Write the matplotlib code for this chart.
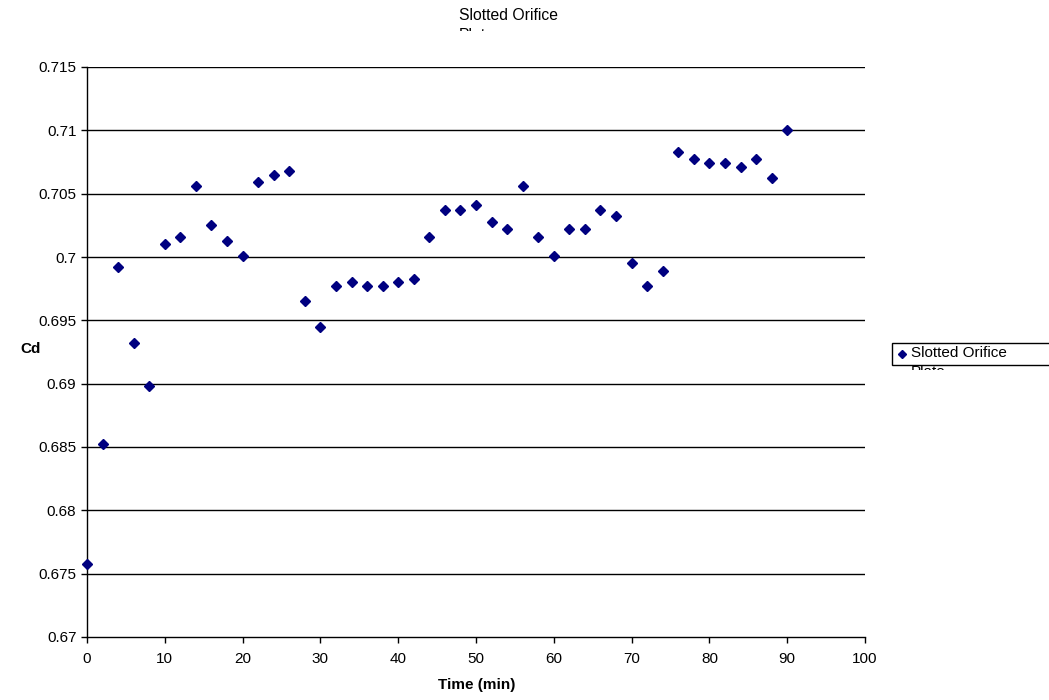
import matplotlib
matplotlib.use("Agg")
import matplotlib.pyplot as plt
from matplotlib.patches import Rectangle
from matplotlib.lines import Line2D
from matplotlib.ticker import FuncFormatter

plt.rcParams['font.family'] = ['Liberation Sans', 'DejaVu Sans']

# Discharge coefficient of the slotted orifice plate over time
time_min = [0, 2, 4, 6, 8, 10, 12, 14, 16, 18, 20, 22, 24, 26, 28, 30,
            32, 34, 36, 38, 40, 42, 44, 46, 48, 50, 52, 54, 56, 58, 60,
            62, 64, 66, 68, 70, 72, 74, 76, 78, 80, 82, 84, 86, 88, 90]
cd = [0.6758, 0.6852, 0.6992, 0.6932, 0.6898, 0.7010, 0.7016, 0.7056,
      0.7025, 0.7013, 0.7001, 0.7059, 0.7065, 0.7068, 0.6965, 0.6945,
      0.6977, 0.6980, 0.6977, 0.6977, 0.6980, 0.6983, 0.7016, 0.7037,
      0.7037, 0.7041, 0.7028, 0.7022, 0.7056, 0.7016, 0.7001, 0.7022,
      0.7022, 0.7037, 0.7032, 0.6995, 0.6977, 0.6989, 0.7083, 0.7077,
      0.7074, 0.7074, 0.7071, 0.7077, 0.7062, 0.7100]

x_ticks = [0, 10, 20, 30, 40, 50, 60, 70, 80, 90, 100]
y_ticks = [0.67, 0.675, 0.68, 0.685, 0.69, 0.695, 0.7, 0.705, 0.71, 0.715]

series_name = "Slotted Orifice"
series_name_2 = "Plate"
navy = "#000080"
FS = 11

W, H = 1049, 700
fig = plt.figure(figsize=(W / 100, H / 100), dpi=100)
ax = fig.add_axes([87 / W, 1 - 637 / H, (865 - 87) / W, (637 - 67) / H])

ax.plot(time_min, cd, linestyle="none", marker="D", markersize=4.7,
        color=navy, markeredgecolor=navy, clip_on=False, zorder=3)

ax.set_xlim(0, 100)
ax.set_ylim(0.67, 0.715)
ax.set_xticks(x_ticks)
ax.set_yticks(y_ticks)
ax.yaxis.set_major_formatter(FuncFormatter(lambda v, p: f"{v:.3f}".rstrip("0").rstrip(".")))

for y in y_ticks[1:]:
    ax.axhline(y, color="black", linewidth=1.0, zorder=1)

for s in ["top", "right"]:
    ax.spines[s].set_visible(False)
for s in ["left", "bottom"]:
    ax.spines[s].set_color("black")
    ax.spines[s].set_linewidth(1.0)

ax.tick_params(axis="both", direction="out", length=4, width=1, color="black",
               labelsize=FS, labelcolor="black")
ax.tick_params(axis="x", pad=6.5)
ax.tick_params(axis="y", pad=3.6)

ax.set_xlabel("Time (min)", fontsize=FS, fontweight="bold")
ax.xaxis.set_label_coords(0.501, -0.084)
ax.xaxis.label.set_va("center")
ax.set_ylabel("Cd", fontsize=FS, fontweight="bold", rotation=0,
              va="center", ha="center")
ax.yaxis.set_label_coords(-0.072, 0.505)

# Title, wrapped onto two lines with the second line cut off
fig.text(459 / W, 1 - 15 / H, series_name, fontsize=11.3, ha="left", va="center")
title2 = fig.text(459 / W, 1 - 35.5 / H, series_name_2, fontsize=11.3, ha="left", va="center")
title_clip = Rectangle((0, 1 - 31 / H), 1, 31 / H, transform=fig.transFigure,
                       facecolor="none", edgecolor="none")
fig.add_artist(title_clip)
title2.set_clip_path(title_clip)

# Legend box
box = Rectangle((891.5 / W, 1 - 365 / H), (W + 20 - 891.5) / W, 22 / H,
                transform=fig.transFigure, facecolor="white", edgecolor="black",
                linewidth=1.0, clip_on=False)
fig.add_artist(box)
fig.add_artist(Line2D([902 / W], [1 - 354 / H], transform=fig.transFigure,
                      linestyle="none", marker="D", markersize=4.0,
                      color=navy, markeredgecolor=navy))
fig.text(911 / W, 1 - 353 / H, series_name, fontsize=FS, ha="left", va="center")
leg2 = fig.text(911 / W, 1 - 372.5 / H, series_name_2, fontsize=FS, ha="left", va="center")
leg_clip = Rectangle((0, 1 - 370 / H), 1, 30 / H, transform=fig.transFigure,
                     facecolor="none", edgecolor="none")
fig.add_artist(leg_clip)
leg2.set_clip_path(leg_clip)

fig.savefig("out.png", dpi=100, facecolor="white")
